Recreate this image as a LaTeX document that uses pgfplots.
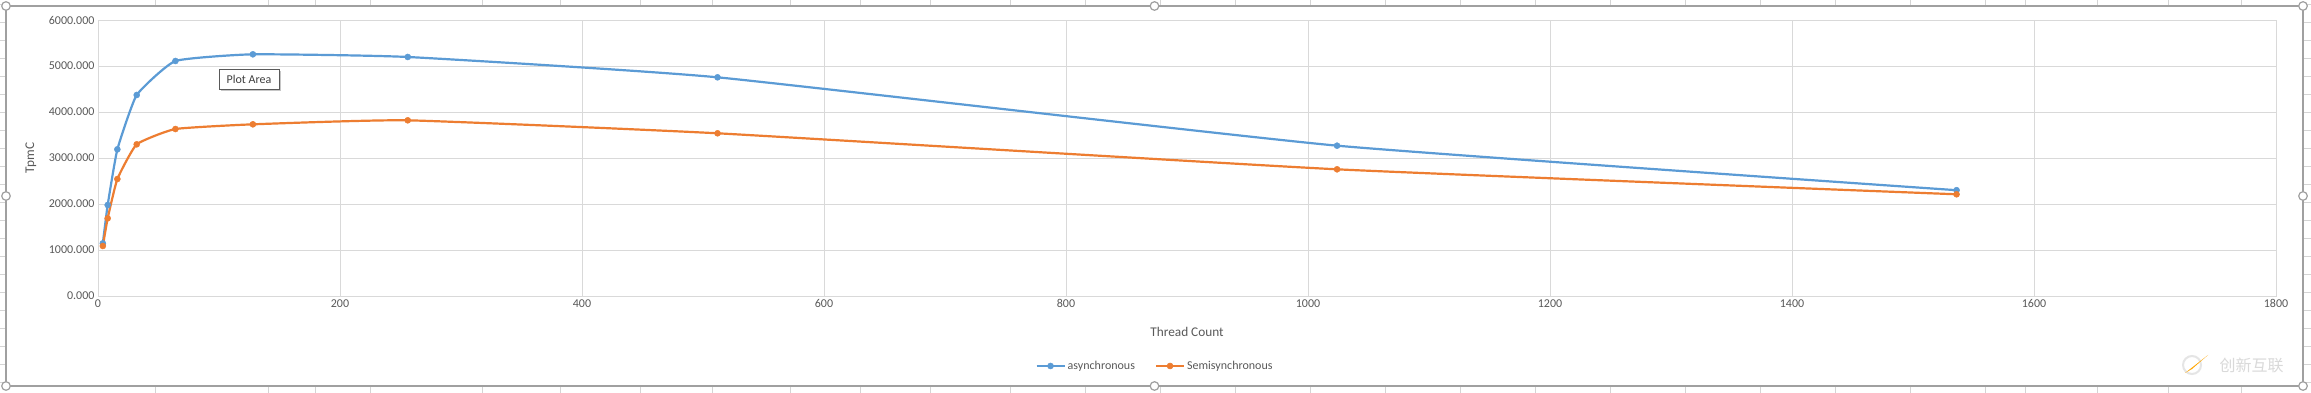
\documentclass[border=0pt]{standalone}
\usepackage{pgfplots}
\pgfplotsset{compat=1.18}
\usepackage{fontspec}
\setmainfont{Carlito}
\newfontfamily\cjk{Noto Sans CJK SC}
\definecolor{xlblue}{HTML}{5B9BD5}
\definecolor{xlorange}{HTML}{ED7D31}
\definecolor{gridgray}{HTML}{D9D9D9}
\definecolor{txtgray}{HTML}{595959}
\definecolor{framegray}{HTML}{A0A0A0}
\definecolor{cellgray}{HTML}{D4D4D4}
\begin{document}
\begin{tikzpicture}[x=1pt,y=1pt]
\fill[white] (0,0) rectangle (2311,393);
\path[use as bounding box] (0,0) rectangle (2311,393);
% spreadsheet cells outside the chart frame
\foreach \yy in {11,29,...,389} {
  \draw[cellgray, line width=0.8pt] (0,\yy) -- (6,\yy);
  \draw[cellgray, line width=0.8pt] (2303,\yy) -- (2311,\yy);
}
\foreach \xx in {155,268,315,370,482,560,640,712,790,860,930,1010,1085,1160,1235,1310,1385,1460,1535,1610,1685,1760,1835,1910,1985,2025,2097,2168,2241} {
  \draw[cellgray, line width=0.8pt] (\xx,387) -- (\xx,393);
  \draw[cellgray, line width=0.8pt] (\xx,0) -- (\xx,7);
}
\begin{axis}[
  at={(98pt,97pt)}, anchor=south west,
  scale only axis, width=2178pt, height=276pt,
  xmin=0, xmax=1800, ymin=0, ymax=6000,
  xtick={0,200,...,1800}, ytick={0,1000,...,6000},
  grid=major, grid style={color=gridgray, line width=0.9pt},
  axis line style={color=gridgray, line width=0.9pt},
  major tick length=0pt,
  /pgf/number format/assume math mode=true,
  tick label style={font=\fontsize{12}{14}\selectfont, text=txtgray},
  yticklabel style={/pgf/number format/.cd, fixed, fixed zerofill, precision=3, 1000 sep={}},
  xticklabel style={/pgf/number format/.cd, fixed, 1000 sep={}},
  xlabel={Thread Count}, ylabel={TpmC},
  label style={font=\fontsize{13.3}{15}\selectfont, text=txtgray},
  x label style={at={(axis description cs:0.5,-0.1304)}, anchor=center},
  y label style={at={(axis description cs:-0.0308,0.5)}, anchor=center},
  legend columns=2,
  legend style={draw=none, fill=none, font=\fontsize{12}{14}\selectfont, text=txtgray,
    at={(0.4853,-0.2536)}, anchor=center,
    /tikz/every even column/.append style={column sep=18pt},
    nodes={inner xsep=2pt}},
  legend image code/.code={\draw[mark repeat=2,mark phase=2] plot coordinates {(0pt,0pt) (14pt,0pt) (28pt,0pt)};},
]
\addplot[color=xlblue, line width=2.2pt, smooth, tension=0.25, mark=*, mark size=3pt, mark options={line width=0.5pt, fill=xlblue}]
  coordinates {(4,1145) (8,1978) (16,3188) (32,4370) (64,5109) (128,5254) (256,5196) (512,4754) (1024,3268) (1536,2300)};
\addlegendentry{asynchronous}
\addplot[color=xlorange, line width=2.2pt, smooth, tension=0.25, mark=*, mark size=3pt, mark options={line width=0.5pt, fill=xlorange}]
  coordinates {(4,1087) (8,1688) (16,2543) (32,3297) (64,3630) (128,3732) (256,3819) (512,3537) (1024,2754) (1536,2211)};
\addlegendentry{Semisynchronous}
\end{axis}
% Plot Area tooltip
\fill[gray!45] (221,302) rectangle (281,322);
\draw[fill=white, draw=gray!70!black, line width=0.8pt] (219,304) rectangle (279,324);
\node[font=\fontsize{12}{14}\selectfont, text=black!75] at (249,314) {Plot Area};
% chart frame with handles
\draw[framegray, line width=1.3pt] (6,7) rectangle (2303,387);
\foreach \hx/\hy in {6/7, 6/197, 6/387, 1154.5/7, 1154.5/387, 2303/7, 2303/197, 2303/387} {
  \draw[fill=white, draw=framegray, line width=1.2pt] (\hx,\hy) circle (4.3);
}
% watermark
\fill[white, opacity=0.8] (2170,12) rectangle (2300,40);
\draw[gray!20, line width=2pt] (2192,28) circle (9);
\fill[orange!70!yellow] (2185,20) -- (2208,38) -- (2192,24) -- cycle;
\node[font=\cjk\fontsize{16}{18}\selectfont, text=gray!30, anchor=west] at (2216,28) {创新互联};
\end{tikzpicture}
\end{document}
